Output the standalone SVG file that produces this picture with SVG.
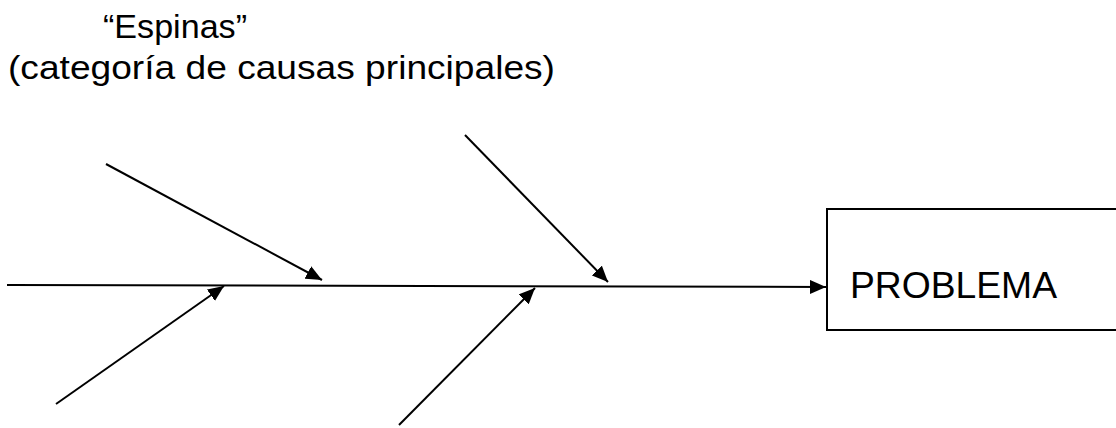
<svg xmlns="http://www.w3.org/2000/svg" width="1116" height="428" viewBox="0 0 1116 428">
<style>
.ln{stroke:#000;stroke-width:2;fill:none}
.t{font-family:"Liberation Sans",Arial,sans-serif;fill:#000}
</style>
<defs>
<marker id="ah" markerWidth="16" markerHeight="14" refX="16" refY="7" orient="auto" markerUnits="userSpaceOnUse">
<path d="M0,0 L16,7 L0,14 Z" fill="#000"/>
</marker>
</defs>
<rect width="1116" height="428" fill="#fff"/>
<g id="label">
<text class="t" x="103" y="38" font-size="33" textLength="144" lengthAdjust="spacingAndGlyphs">“Espinas”</text>
<text class="t" x="8" y="79" font-size="34" textLength="547" lengthAdjust="spacingAndGlyphs">(categoría de causas principales)</text>
</g>
<g id="problema">
<rect x="827" y="209" width="400" height="121" class="ln"/>
<text class="t" x="850" y="298" font-size="36" textLength="207" lengthAdjust="spacingAndGlyphs">PROBLEMA</text>
</g>
<g id="connectors">
<line class="ln" x1="7" y1="285" x2="826" y2="287" marker-end="url(#ah)"/>
<line class="ln" x1="106" y1="164" x2="322" y2="280" marker-end="url(#ah)"/>
<line class="ln" x1="465" y1="135" x2="608" y2="282" marker-end="url(#ah)"/>
<line class="ln" x1="56" y1="404" x2="224" y2="286" marker-end="url(#ah)"/>
<line class="ln" x1="399" y1="425" x2="535" y2="288" marker-end="url(#ah)"/>
</g>
</svg>
